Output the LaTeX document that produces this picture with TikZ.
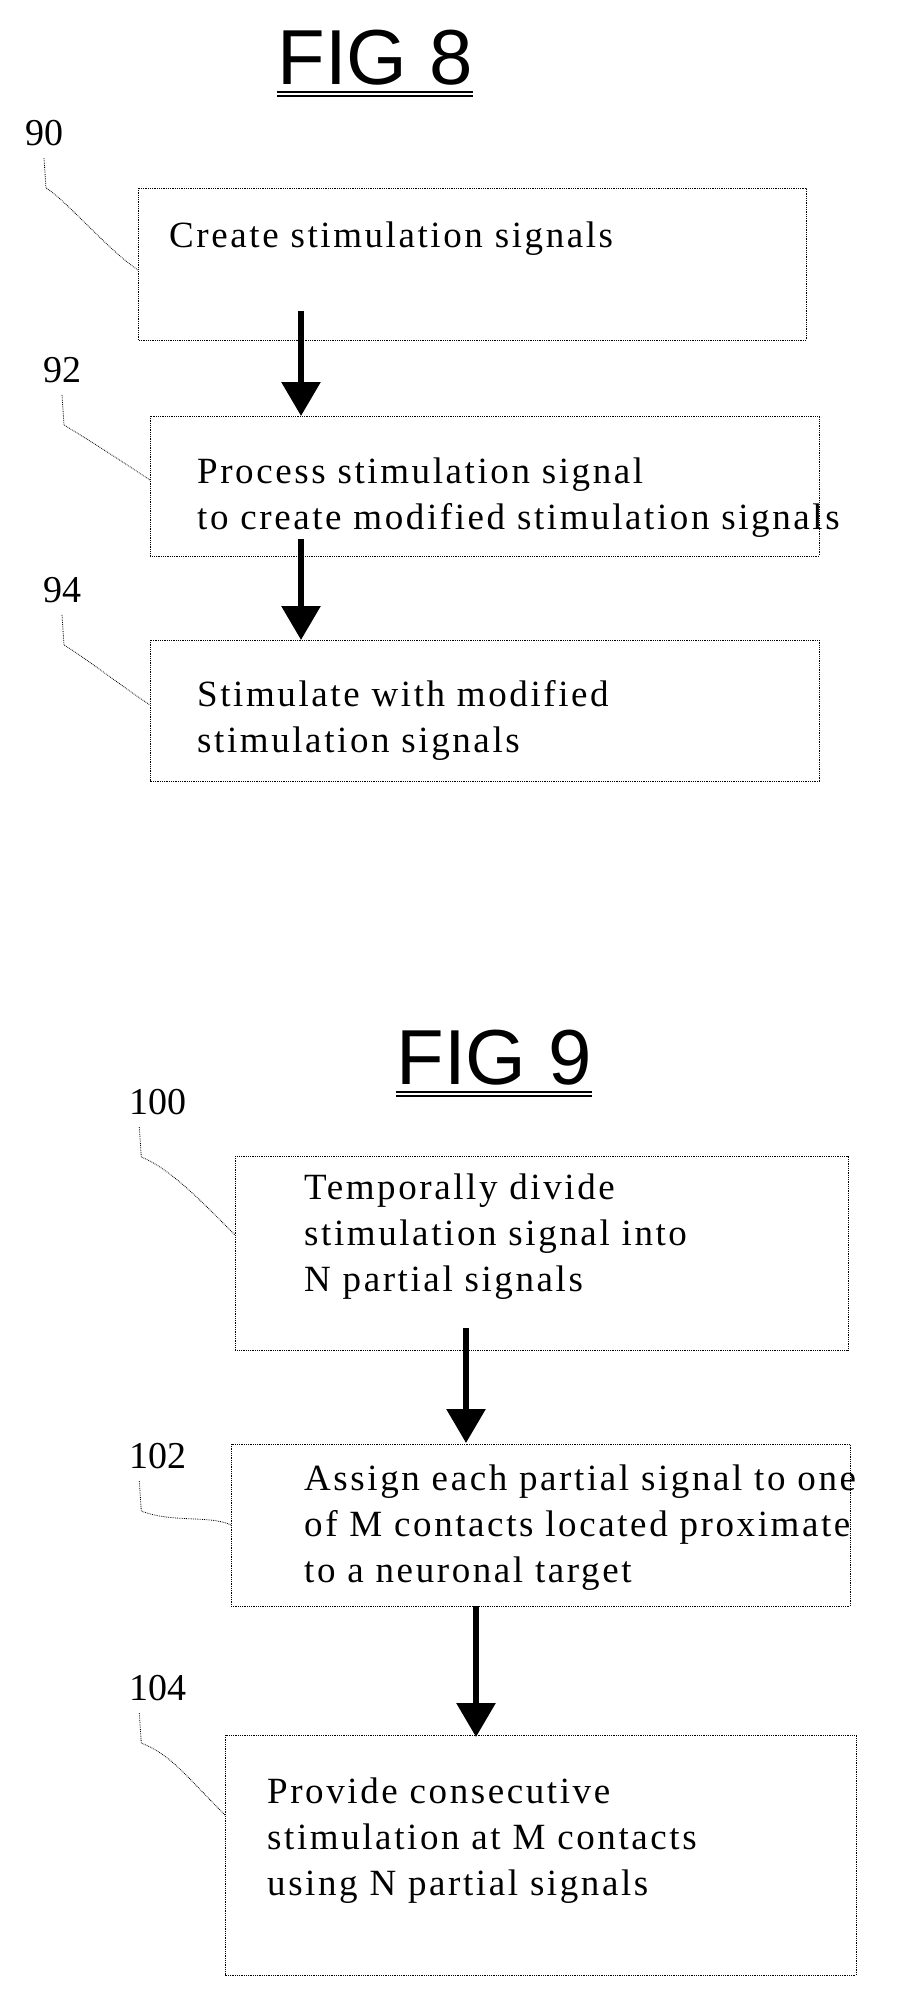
\documentclass[tikz,border=0pt]{standalone}
\usepackage{fontspec}
\setmainfont{Liberation Serif}
\newfontfamily\figfont{Liberation Sans}
\usetikzlibrary{arrows.meta}
\begin{document}
\begin{tikzpicture}[x=1pt,y=-1pt,
  box/.style={draw,densely dotted,line width=0.8pt},
  txt/.style={anchor=north west,align=left,font=\fontsize{37}{46}\selectfont\addfontfeature{LetterSpace=7},inner sep=0pt},
  lab/.style={font=\fontsize{38}{40}\selectfont,inner sep=0pt},
  lead/.style={densely dotted,line width=0.8pt},
  arr/.style={line width=6pt,-{Triangle[length=34pt,width=38pt]}},
  fig/.style={font=\figfont\fontsize{78}{80}\selectfont,inner sep=0pt},
  uline/.style={line width=1.4pt}]
\useasboundingbox (0,0) rectangle (897,2001);
% FIG 8
\node[fig] (f8) at (375,58) {FIG 8};
\draw[uline] ([yshift=-6pt]f8.south west) -- ([yshift=-6pt]f8.south east);
\draw[uline] ([yshift=-10pt]f8.south west) -- ([yshift=-10pt]f8.south east);
\draw[box] (138,188) rectangle (806,340);
\coordinate (b90w) at (138,270);
\node[txt] (t90) at (169,222) {Create stimulation signals};
\draw[box] (150,416) rectangle (819,556);
\coordinate (b92n) at (301,416); \coordinate (b92w) at (150,480);
\node[txt] (t92) at (197,458) {Process stimulation signal\\to create modified stimulation signals};
\draw[box] (150,640) rectangle (819,781);
\coordinate (b94n) at (301,640); \coordinate (b94w) at (150,705);
\node[txt] (t94) at (197,680) {Stimulate with modified\\stimulation signals};
\node[lab] (l90) at (44,133) {90};
\node[lab] (l92) at (62,370) {92};
\node[lab] (l94) at (62,590) {94};
\coordinate (a1) at (301,311); \coordinate (a3) at (301,539);
\draw[lead] (l90.south) ++(0,12) -- ++(2,30) .. controls +(20,12) and +(-30,-20) .. (b90w);
\draw[lead] (l92.south) ++(0,12) -- ++(2,30) .. controls +(20,12) and +(-30,-20) .. (b92w);
\draw[lead] (l94.south) ++(0,12) -- ++(2,30) .. controls +(20,12) and +(-30,-20) .. (b94w);
\draw[arr] (a1) -- (b92n);
\draw[arr] (a3) -- (b94n);
% FIG 9
\node[fig] (f9) at (494,1058) {FIG 9};
\draw[uline] ([yshift=-6pt]f9.south west) -- ([yshift=-6pt]f9.south east);
\draw[uline] ([yshift=-10pt]f9.south west) -- ([yshift=-10pt]f9.south east);
\draw[box] (235,1156) rectangle (848,1350);
\coordinate (b100w) at (235,1235);
\node[txt] (t100) at (304,1174) {Temporally divide\\stimulation signal into\\N partial signals};
\draw[box] (231,1444) rectangle (850,1606);
\coordinate (b102w) at (231,1525);
\node[txt] (t102) at (304,1465) {Assign each partial signal to one\\of M contacts located proximate\\to a neuronal target};
\draw[box] (225,1735) rectangle (856,1975);
\coordinate (b104w) at (225,1815);
\node[txt] (t104) at (267,1778) {Provide consecutive\\stimulation at M contacts\\using N partial signals};
\node[lab] (l100) at (158,1102) {100};
\node[lab] (l102) at (158,1456) {102};
\node[lab] (l104) at (158,1688) {104};
\draw[lead] (l100.south west) ++(10,12) -- ++(2,30) .. controls +(30,12) and +(-30,-30) .. (b100w);
\draw[lead] (l102.south west) ++(10,12) -- ++(2,30) .. controls +(30,12) and +(-20,-10) .. (b102w);
\draw[lead] (l104.south west) ++(10,12) -- ++(2,30) .. controls +(30,12) and +(-40,-40) .. (b104w);
\coordinate (a5) at (466,1328); \coordinate (b102n) at (466,1443);
\coordinate (a7) at (476,1606); \coordinate (b104n) at (476,1737);
\draw[arr] (a5) -- (b102n);
\draw[arr] (a7) -- (b104n);
\end{tikzpicture}
\end{document}
